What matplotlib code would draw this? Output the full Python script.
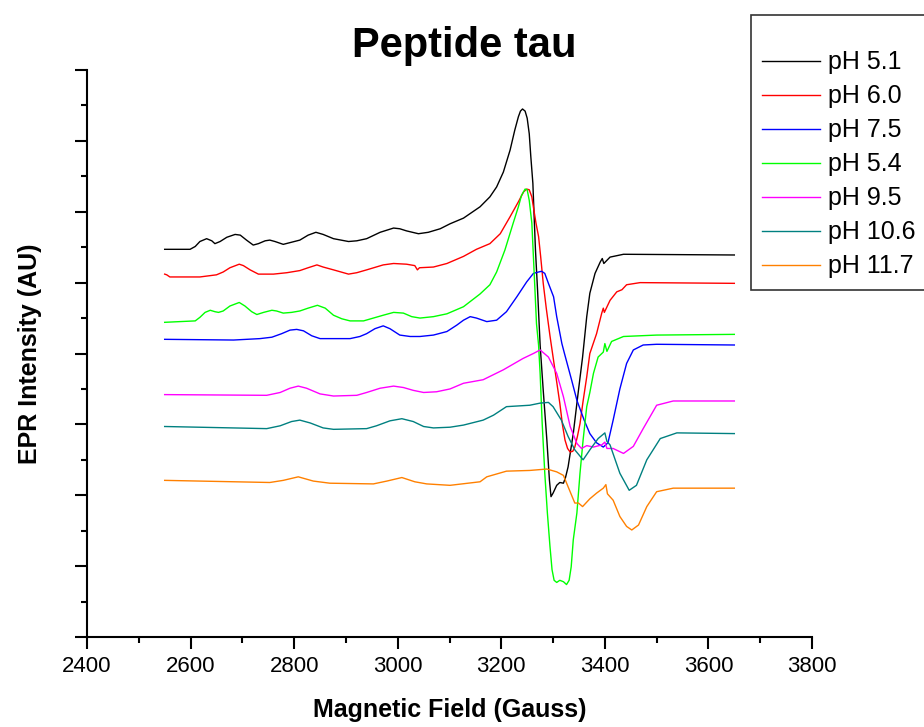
import matplotlib
matplotlib.use("Agg")
import matplotlib.pyplot as plt
from matplotlib.ticker import MultipleLocator, NullFormatter

plt.rcParams['font.family'] = ['Liberation Sans', 'DejaVu Sans']

# ---- EPR spectra of the tau peptide at several pH values (field in Gauss, intensity offset in AU) ----
field_ph51 = [2550, 2599, 2609, 2618, 2631, 2641, 2647, 2657, 2670, 2686, 2696, 2708, 2721, 2731,
              2744, 2753, 2763, 2779, 2795, 2811, 2827, 2842, 2856, 2876, 2905, 2921, 2940, 2966,
              2992, 3004, 3017, 3040, 3059, 3082, 3101, 3127, 3159, 3178, 3191, 3204, 3217, 3226,
              3233, 3237, 3241, 3246, 3250, 3254, 3257, 3261, 3263, 3266, 3270, 3275, 3281, 3288,
              3293, 3296, 3300, 3307, 3313, 3320, 3324, 3329, 3339, 3349, 3357, 3365, 3371, 3381,
              3391, 3395, 3398, 3410, 3436, 3650]
int_ph51 = [5.47, 5.47, 5.51, 5.58, 5.62, 5.59, 5.55, 5.58, 5.64, 5.68, 5.67, 5.60, 5.53, 5.55,
            5.59, 5.60, 5.58, 5.54, 5.57, 5.60, 5.67, 5.71, 5.68, 5.62, 5.58, 5.59, 5.62, 5.71,
            5.77, 5.76, 5.73, 5.69, 5.71, 5.76, 5.83, 5.91, 6.07, 6.21, 6.35, 6.56, 6.87, 7.15,
            7.34, 7.42, 7.45, 7.42, 7.32, 7.10, 6.78, 6.40, 6.02, 5.46, 4.90, 4.12, 3.48, 2.78,
            2.21, 1.98, 2.03, 2.14, 2.18, 2.17, 2.25, 2.40, 2.87, 3.48, 3.95, 4.52, 4.85, 5.13,
            5.29, 5.34, 5.27, 5.36, 5.40, 5.39]

field_ph60 = [2550, 2554, 2560, 2618, 2650, 2663, 2676, 2694, 2702, 2715, 2731, 2760, 2786, 2811,
              2827, 2844, 2856, 2876, 2905, 2921, 2940, 2972, 2992, 3017, 3033, 3038, 3042, 3069,
              3095, 3127, 3152, 3178, 3198, 3217, 3233, 3243, 3249, 3254, 3259, 3263, 3267, 3272,
              3276, 3281, 3287, 3294, 3300, 3307, 3313, 3318, 3323, 3328, 3333, 3338, 3342, 3347,
              3352, 3358, 3365, 3371, 3384, 3394, 3397, 3399, 3410, 3423, 3433, 3442, 3468, 3650]
int_ph60 = [5.12, 5.11, 5.08, 5.08, 5.11, 5.15, 5.21, 5.26, 5.24, 5.18, 5.12, 5.12, 5.14, 5.17,
            5.21, 5.25, 5.22, 5.18, 5.12, 5.14, 5.18, 5.25, 5.27, 5.26, 5.24, 5.18, 5.21, 5.22,
            5.27, 5.37, 5.47, 5.55, 5.69, 5.93, 6.14, 6.28, 6.32, 6.31, 6.21, 6.02, 5.84, 5.65,
            5.37, 4.99, 4.63, 4.25, 3.95, 3.60, 3.30, 3.00, 2.78, 2.66, 2.61, 2.62, 2.68, 2.83,
            3.01, 3.33, 3.67, 4.00, 4.28, 4.57, 4.64, 4.58, 4.75, 4.87, 4.90, 4.97, 5.00, 4.99]

field_ph75 = [2550, 2683, 2734, 2757, 2776, 2792, 2805, 2818, 2834, 2850, 2876, 2908, 2927, 2940,
              2956, 2972, 2985, 3004, 3024, 3043, 3069, 3095, 3114, 3127, 3140, 3152, 3172, 3191,
              3210, 3230, 3249, 3262, 3272, 3278, 3284, 3291, 3301, 3307, 3317, 3322, 3336, 3346,
              3360, 3371, 3384, 3397, 3406, 3416, 3429, 3442, 3455, 3474, 3500, 3650]
int_ph75 = [4.20, 4.19, 4.21, 4.23, 4.28, 4.33, 4.34, 4.32, 4.25, 4.21, 4.21, 4.21, 4.24, 4.28,
            4.35, 4.39, 4.35, 4.26, 4.24, 4.24, 4.26, 4.31, 4.40, 4.47, 4.52, 4.50, 4.45, 4.47,
            4.59, 4.80, 5.01, 5.13, 5.15, 5.16, 5.13, 4.99, 4.80, 4.52, 4.14, 4.00, 3.62, 3.34,
            3.06, 2.87, 2.74, 2.68, 2.74, 3.06, 3.50, 3.86, 4.05, 4.12, 4.13, 4.12]

field_ph54 = [2550, 2609, 2618, 2628, 2638, 2647, 2654, 2663, 2676, 2694, 2705, 2718, 2728, 2741,
              2757, 2766, 2779, 2795, 2811, 2827, 2845, 2860, 2876, 2892, 2908, 2934, 2953, 2972,
              2992, 3011, 3027, 3043, 3069, 3095, 3127, 3159, 3178, 3191, 3207, 3223, 3233, 3239,
              3246, 3250, 3254, 3259, 3262, 3265, 3268, 3272, 3275, 3279, 3284, 3289, 3294, 3298,
              3302, 3307, 3313, 3320, 3326, 3331, 3335, 3339, 3346, 3352, 3358, 3365, 3371, 3378,
              3387, 3397, 3400, 3404, 3413, 3436, 3500, 3650]
int_ph54 = [4.44, 4.46, 4.51, 4.58, 4.61, 4.59, 4.58, 4.60, 4.67, 4.72, 4.67, 4.59, 4.55, 4.58,
            4.61, 4.60, 4.57, 4.58, 4.60, 4.64, 4.68, 4.64, 4.54, 4.49, 4.46, 4.46, 4.50, 4.54,
            4.58, 4.57, 4.52, 4.50, 4.52, 4.56, 4.66, 4.84, 4.97, 5.15, 5.46, 5.84, 6.07, 6.23,
            6.32, 6.31, 6.16, 5.84, 5.37, 4.90, 4.42, 4.12, 3.72, 3.01, 2.31, 1.75, 1.28, 0.95,
            0.80, 0.77, 0.80, 0.78, 0.74, 0.80, 0.99, 1.37, 1.75, 2.31, 2.78, 3.25, 3.45, 3.72,
            3.95, 4.02, 4.14, 4.03, 4.17, 4.24, 4.26, 4.27]

field_ph95 = [2550, 2747, 2773, 2792, 2808, 2824, 2850, 2876, 2921, 2940, 2966, 2992, 3011, 3030,
              3050, 3075, 3101, 3127, 3165, 3204, 3242, 3262, 3275, 3291, 3307, 3320, 3333, 3346,
              3355, 3365, 3378, 3394, 3400, 3404, 3416, 3436, 3455, 3474, 3500, 3532, 3650]
int_ph95 = [3.42, 3.41, 3.45, 3.51, 3.54, 3.51, 3.43, 3.40, 3.41, 3.45, 3.51, 3.54, 3.52, 3.48,
            3.45, 3.46, 3.50, 3.58, 3.63, 3.77, 3.93, 4.00, 4.05, 3.95, 3.72, 3.39, 2.97, 2.73,
            2.66, 2.70, 2.68, 2.71, 2.75, 2.66, 2.66, 2.59, 2.69, 2.94, 3.27, 3.33, 3.33]

field_ph106 = [2550, 2747, 2773, 2795, 2811, 2831, 2856, 2876, 2940, 2959, 2985, 3008, 3030, 3050,
               3069, 3101, 3127, 3165, 3185, 3210, 3255, 3275, 3291, 3300, 3316, 3329, 3342, 3358,
               3371, 3387, 3400, 3404, 3410, 3429, 3447, 3461, 3481, 3507, 3539, 3650]
int_ph106 = [2.97, 2.94, 2.98, 3.04, 3.06, 3.02, 2.95, 2.93, 2.94, 2.98, 3.05, 3.08, 3.04, 2.97,
             2.95, 2.96, 2.99, 3.06, 3.13, 3.25, 3.27, 3.30, 3.31, 3.25, 3.06, 2.83, 2.64, 2.50,
             2.64, 2.80, 2.88, 2.76, 2.71, 2.31, 2.07, 2.14, 2.50, 2.80, 2.88, 2.87]

field_ph117 = [2550, 2753, 2779, 2808, 2837, 2869, 2953, 2979, 3008, 3033, 3056, 3101, 3159, 3172,
               3210, 3255, 3288, 3307, 3320, 3329, 3342, 3349, 3357, 3371, 3384, 3397, 3402, 3405,
               3416, 3429, 3442, 3452, 3465, 3481, 3500, 3532, 3650]
int_ph117 = [2.21, 2.18, 2.21, 2.26, 2.20, 2.17, 2.16, 2.20, 2.25, 2.19, 2.16, 2.14, 2.19, 2.26,
             2.34, 2.35, 2.37, 2.33, 2.28, 2.12, 1.89, 1.89, 1.84, 1.95, 2.03, 2.10, 2.15, 2.02,
             1.93, 1.70, 1.56, 1.51, 1.58, 1.84, 2.05, 2.10, 2.10]

series_labels = ["pH 5.1", "pH 6.0", "pH 7.5", "pH 5.4", "pH 9.5", "pH 10.6", "pH 11.7"]
series_colors = ["#000000", "#FF0000", "#0000FF", "#00FF00", "#FF00FF", "#008080", "#FF8000"]
series_fields = [field_ph51, field_ph60, field_ph75, field_ph54, field_ph95, field_ph106, field_ph117]
series_values = [int_ph51, int_ph60, int_ph75, int_ph54, int_ph95, int_ph106, int_ph117]

x_ticks = [2400, 2600, 2800, 3000, 3200, 3400, 3600, 3800]

fig = plt.figure(figsize=(9.24, 7.27), dpi=100)
ax = fig.add_axes([87 / 924, 90 / 727, 725 / 924, 567 / 727])

handles = []
for fx, fy, col, lab in zip(series_fields, series_values, series_colors, series_labels):
    h, = ax.plot(fx, fy, color=col, lw=1.0, label=lab, solid_joinstyle="round")
    handles.append(h)

ax.set_xlim(2400, 3800)
ax.set_ylim(0, 8)
ax.set_xticks(x_ticks)
ax.xaxis.set_minor_locator(MultipleLocator(100))
ax.yaxis.set_major_locator(MultipleLocator(1))
ax.yaxis.set_minor_locator(MultipleLocator(0.5))
ax.yaxis.set_major_formatter(NullFormatter())

for side in ("top", "right"):
    ax.spines[side].set_visible(False)
for side in ("left", "bottom"):
    ax.spines[side].set_linewidth(1.5)

ax.tick_params(which="major", direction="out", length=8.5, width=1.5, labelsize=16, pad=5)
ax.tick_params(which="minor", direction="out", length=4.3, width=1.5)

ax.set_xlabel("Magnetic Field (Gauss)", fontsize=18, fontweight="bold")
ax.xaxis.set_label_coords(0.5, -0.108)
ax.set_ylabel("EPR Intensity (AU)", fontsize=18, fontweight="bold")
ax.yaxis.set_label_coords(-0.062, 0.5)

fig.text(464 / 924, 1 - 57 / 727, "Peptide tau", ha="center", va="baseline",
         fontsize=30, fontweight="bold")

leg = fig.legend(handles, series_labels, loc="upper left",
                 bbox_to_anchor=(751 / 924, 1 - 15 / 727), bbox_transform=fig.transFigure,
                 fontsize=18, frameon=True, fancybox=False, edgecolor="#333333", framealpha=1,
                 borderpad=0.45, labelspacing=0.40, handlelength=2.3, handletextpad=0.35,
                 borderaxespad=0, title=" ", title_fontsize=10)
leg.get_frame().set_linewidth(1.2)

fig.savefig("out.png", dpi=100)
